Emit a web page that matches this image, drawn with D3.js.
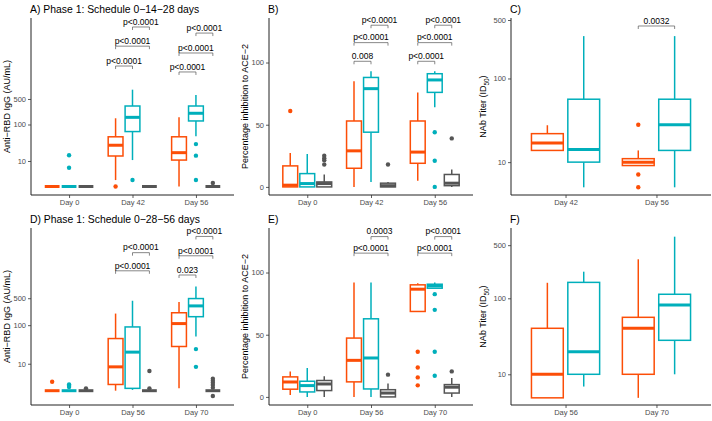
<!DOCTYPE html>
<html><head><meta charset="utf-8">
<script src="https://cdn.jsdelivr.net/npm/d3@7"></script>
<style>
body{margin:0;background:#fff;}
svg{display:block;font-family:"Liberation Sans",Arial,sans-serif;}
</style></head><body>
<svg id="chart" width="712" height="421"></svg>
<script>
// ---------- DATA ----------
const groups = ["G1", "G2", "G3"];            // orange, cyan, gray
const groupColors = ["#FC4E07", "#00AFBB", "#555555"];

const daysA = ["Day 0", "Day 42", "Day 56"];
const daysC = ["Day 42", "Day 56"];
const daysD = ["Day 0", "Day 56", "Day 70"];
const daysF = ["Day 56", "Day 70"];

const ticksLog = [10, 100, 500];
const ticksPct = [0, 50, 100];

// box stats: [day, group, whiskerLow, q1, median, q3, whiskerHigh]
const statsA = [
  ["Day 0", 0, 2, 2, 2, 2, 2], ["Day 0", 1, 2, 2, 2, 2, 2], ["Day 0", 2, 2, 2, 2, 2, 2],
  ["Day 42", 0, 3.0, 13.7, 27, 46, 148], ["Day 42", 1, 10.6, 64, 157, 321, 900], ["Day 42", 2, 2, 2, 2, 2, 2],
  ["Day 56", 0, 2, 10.6, 16.9, 46, 157], ["Day 56", 1, 48, 125, 203, 321, 645], ["Day 56", 2, 2, 2, 2, 2, 2]
];
const outA = [["Day 0", 1, 14.3], ["Day 0", 1, 6.5], ["Day 42", 0, 2], ["Day 42", 1, 3],
  ["Day 56", 1, 29], ["Day 56", 1, 14], ["Day 56", 1, 3], ["Day 56", 2, 2.5]];
const pA = [["Day 42", 0, 1, "p<0.0001", 4000], ["Day 42", 0, 2, "p<0.0001", 14000], ["Day 42", 1, 2, "p<0.0001", 47000],
  ["Day 56", 0, 1, "p<0.0001", 2750], ["Day 56", 0, 2, "p<0.0001", 9100], ["Day 56", 1, 2, "p<0.0001", 32000]];

const statsB = [
  ["Day 0", 0, 0, 0, 1.4, 16.9, 27.3], ["Day 0", 1, 0, 0, 2.7, 10.7, 26.5], ["Day 0", 2, 0, 0, 2.7, 4, 10],
  ["Day 42", 0, 0, 15, 29, 53, 85], ["Day 42", 1, 4, 44, 79, 88, 93], ["Day 42", 2, 0, 0, 1, 3, 4],
  ["Day 56", 0, 5, 19, 28, 53, 76], ["Day 56", 1, 64, 76, 86, 91, 93], ["Day 56", 2, 0, 1, 3, 10, 14]
];
const outB = [["Day 0", 0, 61], ["Day 0", 2, 25], ["Day 0", 2, 23], ["Day 0", 2, 21.5], ["Day 0", 2, 18],
  ["Day 42", 2, 18], ["Day 56", 1, 44], ["Day 56", 1, 21], ["Day 56", 1, 0], ["Day 56", 2, 39]];
const pB = [["Day 42", 0, 1, "0.008", 101], ["Day 42", 0, 2, "p<0.0001", 116], ["Day 42", 1, 2, "p<0.0001", 130],
  ["Day 56", 0, 1, "p<0.0001", 101], ["Day 56", 0, 2, "p<0.0001", 116], ["Day 56", 1, 2, "p<0.0001", 130]];

const statsC = [
  ["Day 42", 0, 13.8, 13.8, 16.9, 21.9, 27.6], ["Day 42", 1, 5, 10, 14.2, 56.5, 321],
  ["Day 56", 0, 9.1, 9.1, 10, 11, 13.8], ["Day 56", 1, 5, 13.8, 28, 56.5, 321]
];
const outC = [["Day 56", 0, 28], ["Day 56", 0, 7.1], ["Day 56", 0, 5.0]];
const pC = [["Day 56", 0, 1, "0.0032", 424]];

const statsD = [
  ["Day 0", 0, 2, 2, 2, 2, 2], ["Day 0", 1, 2, 2, 2, 2, 2], ["Day 0", 2, 2, 2, 2, 2, 2],
  ["Day 56", 0, 2, 2.9, 8.3, 45, 200], ["Day 56", 1, 2.1, 2.3, 20, 90, 430], ["Day 56", 2, 2, 2, 2, 2, 2],
  ["Day 70", 0, 2.3, 28, 110, 210, 400], ["Day 70", 1, 51, 166, 316, 490, 1000], ["Day 70", 2, 2, 2, 2, 2, 2]
];
const outD = [["Day 0", 0, 3.4], ["Day 0", 1, 2.5], ["Day 0", 1, 2.7], ["Day 0", 1, 2.9], ["Day 0", 2, 2.3],
  ["Day 56", 2, 6.5], ["Day 56", 2, 2.3], ["Day 70", 1, 24], ["Day 70", 1, 8.3],
  ["Day 70", 2, 4.1], ["Day 70", 2, 3.6], ["Day 70", 2, 3.2], ["Day 70", 2, 2.8], ["Day 70", 2, 2.4], ["Day 70", 2, 1.46]];
const pD = [["Day 56", 0, 2, "p<0.0001", 2570], ["Day 56", 1, 2, "p<0.0001", 7590],
  ["Day 70", 0, 1, "0.023", 2000], ["Day 70", 0, 2, "p<0.0001", 6300], ["Day 70", 1, 2, "p<0.0001", 20000]];

const statsE = [
  ["Day 0", 0, 1.6, 6.2, 12, 16.1, 20.5], ["Day 0", 1, 0, 4, 9.1, 12.6, 23.2], ["Day 0", 2, 0, 5.1, 10.4, 13.2, 16.6],
  ["Day 56", 0, 0, 12.1, 29.4, 47.3, 92], ["Day 56", 1, 0, 6.4, 31.3, 62.8, 92], ["Day 56", 2, 0, 0, 3.1, 5.8, 10.8],
  ["Day 70", 0, 68.7, 68.7, 86.6, 90.1, 91.4], ["Day 70", 1, 87.4, 87.4, 89.3, 90.6, 92], ["Day 70", 2, 0, 3.1, 7.8, 9.9, 15.2]
];
const outE = [["Day 56", 2, 17.9], ["Day 70", 0, 36.3], ["Day 70", 0, 23.7], ["Day 70", 0, 15.7], ["Day 70", 0, 9.3],
  ["Day 70", 1, 82.6], ["Day 70", 1, 70], ["Day 70", 1, 36.3], ["Day 70", 1, 17], ["Day 70", 2, 20.5]];
const pE = [["Day 56", 0, 2, "p<0.0001", 115.6], ["Day 56", 1, 2, "0.0003", 128.9],
  ["Day 70", 0, 2, "p<0.0001", 115.6], ["Day 70", 1, 2, "p<0.0001", 128.9]];

const statsF = [
  ["Day 56", 0, 4.9, 4.9, 10, 40.3, 160], ["Day 56", 1, 6.9, 10, 19.8, 162, 224],
  ["Day 70", 0, 4.9, 10, 40.3, 56.2, 326], ["Day 70", 1, 10, 28, 81.6, 113, 647]
];
const outF = [];
const pF = [];

const labelIgG = "Anti\u2212RBD IgG (AU/mL)";
const labelPct = "Percentage inhibition to ACE\u22122";

// ---------- LAYOUT ----------
const svg = d3.select("#chart");
const FONT = '"Liberation Sans",Arial,sans-serif';

const panels = [
  {title: "A) Phase 1: Schedule 0\u221214\u221228 days", days: daysA, ng: 3, stats: statsA, out: outA, p: pA,
   x0: 31, x1: 234, y0: 18, y1: 195, log: true, dom: [0.068, 4.918], ticks: ticksLog, ylab: labelIgG, ylx: 10},
  {title: "B)", days: daysA, ng: 3, stats: statsB, out: outB, p: pB,
   x0: 269, x1: 473, y0: 18, y1: 195, log: false, dom: [-6.5, 135.8], ticks: ticksPct, ylab: labelPct, ylx: 248},
  {title: "C)", days: daysC, ng: 2, stats: statsC, out: outC, p: pC,
   x0: 511, x1: 711, y0: 18, y1: 195, log: true, dom: [0.607, 2.723], ticks: ticksLog, ylab: "nab", ylx: 486},
  {title: "D) Phase 1: Schedule 0\u221228\u221256 days", days: daysD, ng: 3, stats: statsD, out: outD, p: pD,
   x0: 31, x1: 234, y0: 228, y1: 405, log: true, dom: [-0.07, 4.52], ticks: ticksLog, ylab: labelIgG, ylx: 10},
  {title: "E)", days: daysD, ng: 3, stats: statsE, out: outE, p: pE,
   x0: 269, x1: 473, y0: 228, y1: 405, log: false, dom: [-6.5, 135.8], ticks: ticksPct, ylab: labelPct, ylx: 248},
  {title: "F)", days: daysF, ng: 2, stats: statsF, out: outF, p: pF,
   x0: 511, x1: 711, y0: 228, y1: 405, log: true, dom: [0.596, 2.925], ticks: ticksLog, ylab: "nab", ylx: 486}
];

panels.forEach(P => {
  const g = svg.append("g");
  const x = d3.scalePoint().domain(P.days).range([P.x0, P.x1]).padding(0.6);
  const step = x.step();
  const y = P.log
    ? d3.scaleLog().domain([Math.pow(10, P.dom[0]), Math.pow(10, P.dom[1])]).range([P.y1, P.y0])
    : d3.scaleLinear().domain(P.dom).range([P.y1, P.y0]);
  const slot = 0.8 / P.ng * step;
  const bw = 0.7 / P.ng * step;
  const cx = (day, gi) => x(day) + (gi - (P.ng - 1) / 2) * slot;

  // title
  g.append("text").attr("x", P.x0 - 1).attr("y", P.y0 - 5).attr("font-size", 10.4)
    .attr("fill", "#000").text(P.title);

  // y label
  const yl = g.append("text").attr("transform", `translate(${P.ylx},${(P.y0 + P.y1) / 2}) rotate(-90)`)
    .attr("text-anchor", "middle").attr("font-size", 9).attr("fill", "#000");
  if (P.ylab === "nab") {
    yl.append("tspan").text("NAb Titer (ID");
    yl.append("tspan").attr("font-size", 6.5).attr("dy", 2.5).text("50");
    yl.append("tspan").attr("dy", -2.5).text(")");
  } else yl.text(P.ylab);

  // axes
  const ax = g.append("g").attr("transform", `translate(0,${P.y1})`)
    .call(d3.axisBottom(x).tickSize(3).tickPadding(2));
  const ay = g.append("g").attr("transform", `translate(${P.x0},0)`)
    .call(d3.axisLeft(y).tickValues(P.ticks).tickFormat(d3.format("d")).tickSize(3).tickPadding(2));
  [ax, ay].forEach(a => {
    a.select(".domain").attr("stroke", "#222").attr("stroke-width", 1);
    a.selectAll(".tick line").attr("stroke", "#333").attr("stroke-width", 0.8);
    a.selectAll(".tick text").attr("font-size", 7.5).attr("fill", "#4d4d4d").attr("font-family", FONT);
  });
  ax.select(".domain").attr("d", `M${P.x0},0H${P.x1}`);
  ay.select(".domain").attr("d", `M0,${P.y1}V${P.y0}`);

  // boxes
  P.stats.forEach(s => {
    const [day, gi, lo, q1, med, q3, hi] = s;
    const c = groupColors[gi];
    const xc = cx(day, gi);
    const b = g.append("g");
    b.append("line").attr("x1", xc).attr("x2", xc).attr("y1", y(hi)).attr("y2", y(q3))
      .attr("stroke", c).attr("stroke-width", 1.5);
    b.append("line").attr("x1", xc).attr("x2", xc).attr("y1", y(q1)).attr("y2", y(lo))
      .attr("stroke", c).attr("stroke-width", 1.5);
    b.append("rect").attr("x", xc - bw / 2).attr("width", bw)
      .attr("y", y(q3)).attr("height", Math.max(0, y(q1) - y(q3)))
      .attr("fill", "#fff").attr("stroke", c).attr("stroke-width", 1.5);
    b.append("line").attr("x1", xc - bw / 2).attr("x2", xc + bw / 2).attr("y1", y(med)).attr("y2", y(med))
      .attr("stroke", c).attr("stroke-width", 3);
  });
  // outliers
  P.out.forEach(o => {
    g.append("circle").attr("cx", cx(o[0], o[1])).attr("cy", y(o[2])).attr("r", 2.2)
      .attr("fill", groupColors[o[1]]);
  });
  // p-value brackets
  P.p.forEach(p => {
    const [day, ga, gb, lab, val] = p;
    const xa = cx(day, ga), xb = cx(day, gb), yy = y(val);
    g.append("path").attr("d", `M${xa},${yy + 3}V${yy}H${xb}V${yy + 3}`)
      .attr("fill", "none").attr("stroke", "#555").attr("stroke-width", 0.7);
    g.append("text").attr("x", (xa + xb) / 2).attr("y", yy - 2.2).attr("text-anchor", "middle")
      .attr("font-size", 8.5).attr("fill", "#000").text(lab);
  });
});
</script>
</body></html>
